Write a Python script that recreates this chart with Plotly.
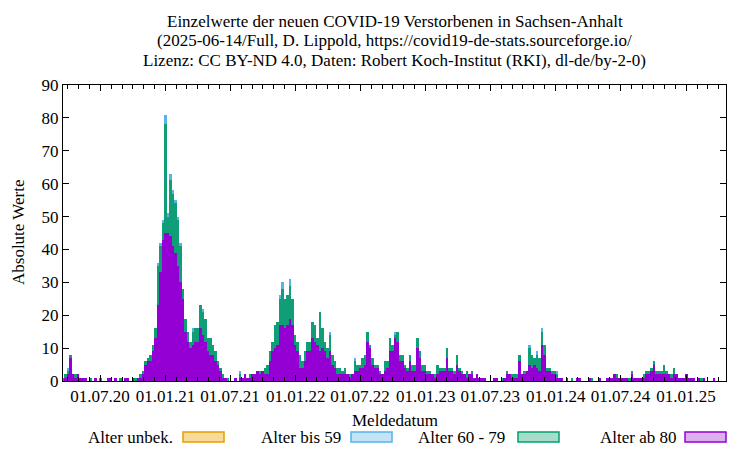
import pandas as pd
import plotly.graph_objects as go

# Weekly reading of the daily values (week starting dates from 2020-03-16)
start_date = "2020-03-16"

ab80 = [0,1,2,7,2,1,2,1,1,1,
        0,0,0,1,0,0,0,0,1,1,
        0,1,0,0,0,1,1,0,1,0,
        1,1,2,5,6,6,9,13,23,33,
        43,45,45,44,41,39,35,30,25,15,
        12,10,11,12,12,16,14,12,9,8,
        8,6,5,3,1,1,0,0,0,1,
        0,1,1,2,1,1,2,2,3,2,
        3,2,2,6,9,10,11,17,17,16,
        17,19,17,11,9,4,4,6,9,9,
        13,12,11,9,10,9,7,9,5,4,
        2,2,2,2,2,1,2,3,3,4,
        4,5,12,10,5,4,4,2,2,3,
        4,9,9,13,12,6,6,4,3,6,
        3,3,10,7,3,3,2,2,2,1,
        2,3,3,3,7,3,3,2,5,3,
        2,2,1,2,2,1,2,1,1,1,
        0,0,0,1,1,0,0,1,2,2,
        1,1,1,6,2,2,3,5,4,5,
        4,3,11,8,3,3,2,2,1,1,
        1,0,1,0,0,0,1,1,0,0,
        0,1,0,0,0,1,0,0,1,1,
        1,2,1,1,1,1,1,0,2,1,
        1,1,1,1,2,2,3,5,2,2,
        2,2,2,2,1,2,2,1,1,1,
        2,1,1,1,0,1,0,1,0,0,
        0,1,0,0,0,0]

a60_79 = [1,1,1,1,0,1,0,0,0,0,
          0,1,0,0,0,1,0,0,0,0,
          0,0,0,1,0,0,0,0,0,1,
          0,1,1,1,1,2,2,3,12,8,
          5,33,5,17,16,15,14,11,3,4,
          3,2,4,4,4,7,7,7,4,5,
          3,3,1,1,1,0,1,0,0,0,
          0,1,0,0,0,1,0,0,0,1,
          0,2,3,3,3,7,7,8,11,9,
          9,10,8,3,3,4,2,3,3,3,
          5,5,2,12,6,3,3,5,3,2,
          2,2,1,2,0,1,0,3,2,1,
          3,3,3,1,2,1,1,1,0,3,
          2,4,2,1,3,2,2,1,1,2,
          2,2,3,2,2,2,1,1,0,1,
          3,1,1,1,3,1,1,1,3,1,
          1,0,2,0,1,0,0,0,0,0,
          0,0,0,0,0,0,1,0,1,0,
          1,1,1,2,0,1,0,5,4,2,
          4,4,4,3,1,1,1,1,1,0,
          0,0,0,0,1,0,0,0,0,0,
          0,0,1,0,0,0,0,0,0,0,
          0,0,1,0,0,0,0,1,1,0,
          0,0,0,1,1,1,1,1,1,1,
          1,3,1,0,1,2,0,0,0,0,
          0,0,0,0,0,0,1,0,0,0,
          0,0,0,0,0,0]

bis59 = [0,0,1,0,0,0,0,0,0,0,
         0,0,0,0,0,0,0,0,0,0,
         0,0,0,0,0,0,0,0,0,0,
         0,0,0,0,0,0,0,0,1,1,
         1,3,1,2,1,1,1,1,0,0,
         0,0,1,0,0,0,1,0,0,0,
         0,0,0,0,0,0,0,0,0,0,
         0,1,0,0,0,0,0,0,0,0,
         0,0,0,0,0,0,0,1,2,0,
         0,2,0,0,0,0,0,0,0,0,
         0,0,0,0,0,0,0,1,0,0,
         0,0,0,0,0,0,0,1,0,0,
         0,0,0,0,0,0,0,0,0,0,
         0,0,0,1,0,0,0,0,0,0,
         0,0,0,0,0,0,0,0,0,0,
         0,0,0,0,0,0,0,0,0,0,
         0,0,0,0,0,0,0,0,0,0,
         0,0,0,0,0,0,0,0,0,0,
         0,0,0,0,0,0,0,1,0,0,
         1,0,1,0,0,0,0,0,1,0,
         0,0,0,0,0,0,0,0,0,0,
         0,0,0,0,0,0,0,0,0,0,
         0,0,0,0,0,0,0,0,0,0,
         0,0,0,0,0,0,0,0,0,0,
         0,0,0,0,0,0,0,0,0,0,
         0,0,0,0,0,0,0,0,0,0,
         0,0,0,0,0,0]

legend_labels = ["Alter unbek.", "Alter bis 59", "Alter 60 - 79", "Alter ab 80"]
title_lines = ["Einzelwerte der neuen COVID-19 Verstorbenen in Sachsen-Anhalt",
               "(2025-06-14/Full, D. Lippold, https://covid19-de-stats.sourceforge.io/",
               "Lizenz: CC BY-ND 4.0, Daten: Robert Koch-Institut (RKI), dl-de/by-2-0)"]

weeks = pd.date_range(start_date, periods=len(ab80), freq="7D") + pd.Timedelta(hours=84)
week_ms = 7 * 24 * 3600 * 1000

FONT = "Liberation Serif"
FS = 17
fig = go.Figure()
for vals, col in [(ab80, "#9400D3"), (a60_79, "#0f9e76"), (bis59, "#56B4E9")]:
    fig.add_trace(go.Bar(x=weeks, y=vals, width=week_ms, marker=dict(color=col, line=dict(width=0)),
                         showlegend=False))

# page coordinates of the plot box (the page body has an 8px margin)
OFF = 8
L, R, T, B = 63, 726, 85, 381
W, H = 750 - OFF, 450 - OFF
pw, ph = R - L, B - T

def px(x):
    return (x - L) / pw

def py(y):
    return (B - y) / ph

annotations = []
for yy, line in zip([22, 41, 60], title_lines):
    annotations.append(dict(text=line, x=0.5, y=py(yy), xref="paper", yref="paper", showarrow=False,
                            xanchor="center", yanchor="middle", font=dict(family=FONT, size=FS, color="black")))
annotations.append(dict(text="Meldedatum", x=0.5, y=py(420), xref="paper", yref="paper", showarrow=False,
                        xanchor="center", yanchor="middle", font=dict(family=FONT, size=FS, color="black")))
annotations.append(dict(text="Absolute Werte", x=px(18), y=py(232), xref="paper", yref="paper", showarrow=False,
                        textangle=-90, xanchor="center", yanchor="middle", font=dict(family=FONT, size=FS, color="black")))

shapes = []
leg_text_right = [175, 343, 507, 678]
leg_box = [(183, 224), (351, 392), (518, 559), (685, 726)]
leg_fill = ["#f7d99a", "#c5e3f6", "#a6dcc8", "#dcb0ee"]
leg_line = ["#E69F00", "#56B4E9", "#009E73", "#9400D3"]
ly = 437
for lab, tr, (b0, b1), fc, lc in zip(legend_labels, leg_text_right, leg_box, leg_fill, leg_line):
    annotations.append(dict(text=lab, x=px(tr), y=py(ly), xref="paper", yref="paper", showarrow=False,
                            xanchor="right", yanchor="middle", font=dict(family=FONT, size=FS, color="black")))
    shapes.append(dict(type="rect", xref="paper", yref="paper", x0=px(b0), x1=px(b1),
                       y0=py(ly + 5), y1=py(ly - 5), fillcolor=fc, line=dict(color=lc, width=1.5)))

fig.update_layout(
    width=W, height=H,
    margin=dict(l=L - OFF, r=750 - R, t=T - OFF, b=450 - B),
    paper_bgcolor="white", plot_bgcolor="white",
    barmode="stack", bargap=0,
    font=dict(family=FONT, size=FS, color="black"),
    annotations=annotations, shapes=shapes,
    xaxis=dict(range=["2020-03-19", "2025-04-23"], type="date",
               tick0="2020-07-01", dtick="M6", tickformat="%d.%m.%y",
               ticks="inside", ticklen=6, tickcolor="black",
               minor=dict(dtick="M1", ticks="inside", ticklen=4, tickcolor="black"),
               showline=True, linecolor="black", linewidth=1, mirror="ticks",
               showgrid=False, zeroline=False,
               tickfont=dict(family=FONT, size=FS, color="black")),
    yaxis=dict(range=[0, 90], dtick=10, ticks="inside", ticklen=6, tickcolor="black",
               showline=True, linecolor="black", linewidth=1, mirror="ticks",
               showgrid=False, zeroline=False,
               tickfont=dict(family=FONT, size=FS, color="black")),
)

fig.write_html("out.html")
